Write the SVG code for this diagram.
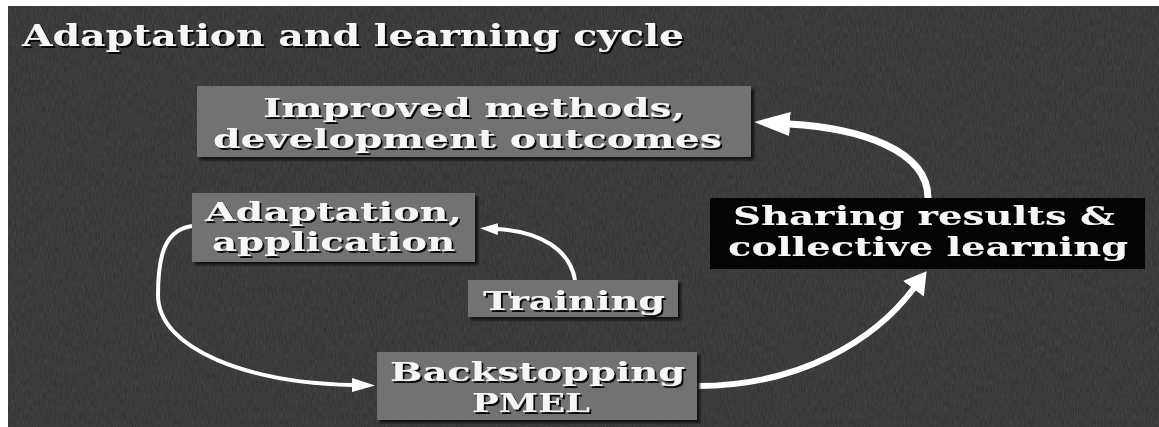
<svg xmlns="http://www.w3.org/2000/svg" width="1159" height="427" viewBox="0 0 1159 427">
  <defs>
    <style>
      .t { font-family: "DejaVu Serif", "Liberation Serif", serif; font-weight: bold; fill: #f6f6f6; filter: url(#tshadow); }
      .title { font-size: 30px; }
      .lbl { font-size: 26px; }
      .box { fill: #727272; filter: url(#bshadow); }
      .dark { fill: #050505; }
      .conn { fill: none; stroke: #ffffff; stroke-linecap: butt; }
    </style>
    <filter id="tshadow" x="-5%" y="-20%" width="110%" height="150%">
      <feDropShadow dx="2" dy="2" stdDeviation="0.6" flood-color="#000" flood-opacity="0.9"/>
    </filter>
    <filter id="bshadow" x="-5%" y="-10%" width="110%" height="125%">
      <feDropShadow dx="3" dy="3" stdDeviation="1" flood-color="#111" flood-opacity="0.9"/>
    </filter>
    <filter id="grain" x="0" y="0" width="100%" height="100%">
      <feTurbulence type="fractalNoise" baseFrequency="0.9 0.15" numOctaves="2" seed="3" result="n"/>
      <feColorMatrix type="matrix" values="0 0 0 0 1  0 0 0 0 1  0 0 0 0 1  0 0 0 0.12 0"/>
    </filter>
    <marker id="ahL" markerUnits="userSpaceOnUse" markerWidth="38" markerHeight="26" refX="1" refY="12" orient="auto">
      <path d="M0,0 L36,12 L0,24 Z" fill="#ffffff"/>
    </marker>
    <marker id="ahM" markerUnits="userSpaceOnUse" markerWidth="24" markerHeight="28" refX="1" refY="13" orient="auto">
      <path d="M0,0 L22,13 L0,26 Z" fill="#ffffff"/>
    </marker>
    <marker id="ahS" markerUnits="userSpaceOnUse" markerWidth="25" markerHeight="16" refX="1" refY="7" orient="auto">
      <path d="M0,0 L23,7 L0,14 Z" fill="#ffffff"/>
    </marker>
    <marker id="ahT" markerUnits="userSpaceOnUse" markerWidth="20" markerHeight="14" refX="1" refY="6" orient="auto">
      <path d="M0,0 L18,6 L0,12 Z" fill="#ffffff"/>
    </marker>
  </defs>

  <rect x="0" y="0" width="1159" height="427" fill="#ffffff"/>
  <rect x="8" y="6" width="1151" height="421" fill="#2f2f2f"/>
  <rect x="8" y="6" width="1151" height="421" filter="url(#grain)"/>

  <text class="t title" x="22" y="46" textLength="662" lengthAdjust="spacingAndGlyphs">Adaptation and learning cycle</text>

  <g id="connectors">
    <path class="conn" d="M928,198 C928,150 860,128 789,124" stroke-width="7" marker-end="url(#ahL)"/>
    <path class="conn" d="M575,280 C570,250 540,231 497,229" stroke-width="4" marker-end="url(#ahT)"/>
    <path class="conn" d="M192,226 C165,230 158,255 158,295 C158,350 250,383 353,385" stroke-width="4" marker-end="url(#ahS)"/>
    <path class="conn" d="M698,386 C800,386 875,340 914,288" stroke-width="6" marker-end="url(#ahM)"/>
  </g>

  <g id="node-improved">
    <rect class="box" x="197" y="86" width="554" height="71" fill="#7a7a7a"/>
    <text class="t lbl" x="263" y="117" textLength="422" lengthAdjust="spacingAndGlyphs">Improved methods,</text>
    <text class="t lbl" x="213" y="148" textLength="509" lengthAdjust="spacingAndGlyphs">development outcomes</text>
  </g>

  <g id="node-adaptation">
    <rect class="box" x="192" y="193" width="283" height="69"/>
    <text class="t lbl" x="205" y="221" textLength="257" lengthAdjust="spacingAndGlyphs">Adaptation,</text>
    <text class="t lbl" x="212" y="251" textLength="243" lengthAdjust="spacingAndGlyphs">application</text>
  </g>

  <g id="node-training">
    <rect class="box" x="468" y="280" width="210" height="37"/>
    <text class="t lbl" x="483" y="310" textLength="182" lengthAdjust="spacingAndGlyphs">Training</text>
  </g>

  <g id="node-backstopping">
    <rect class="box" x="377" y="352" width="320" height="68"/>
    <text class="t lbl" x="390" y="381" textLength="295" lengthAdjust="spacingAndGlyphs">Backstopping</text>
    <text class="t lbl" x="472" y="412" textLength="118" lengthAdjust="spacingAndGlyphs">PMEL</text>
  </g>

  <g id="node-sharing">
    <rect class="dark" x="710" y="198" width="435" height="71"/>
    <text class="t lbl" x="733" y="225" textLength="382" lengthAdjust="spacingAndGlyphs">Sharing results &amp;</text>
    <text class="t lbl" x="728" y="256" textLength="400" lengthAdjust="spacingAndGlyphs">collective learning</text>
  </g>
</svg>
